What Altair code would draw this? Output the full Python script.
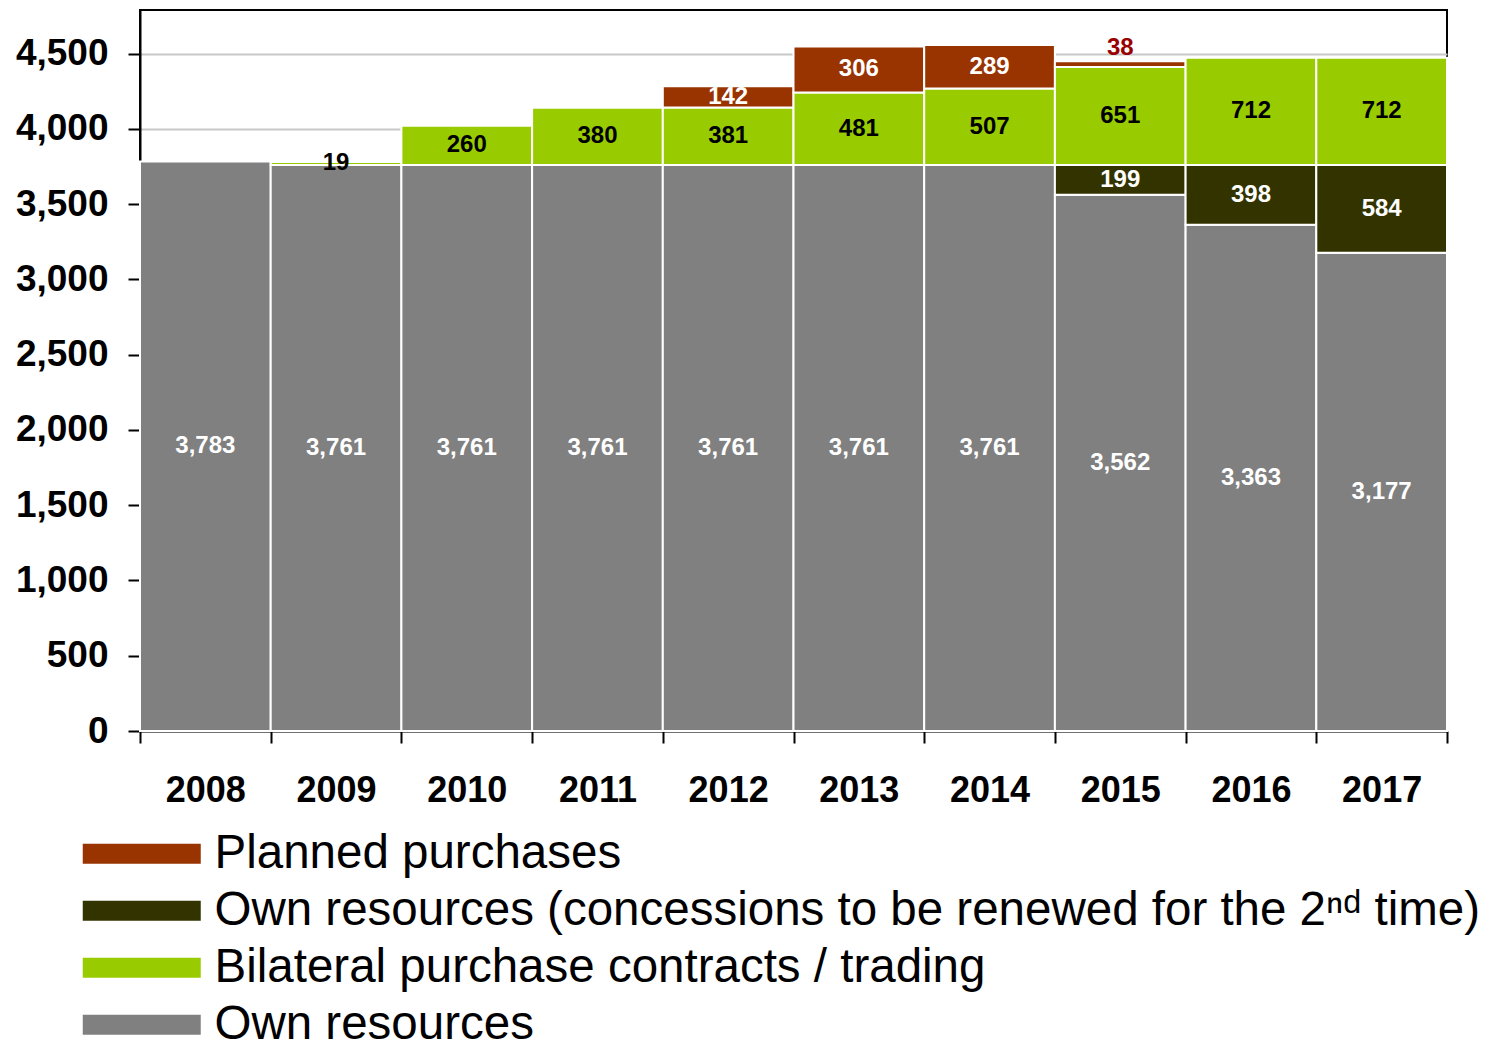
import altair as alt
import pandas as pd

years = ["2008", "2009", "2010", "2011", "2012", "2013", "2014", "2015", "2016", "2017"]
own = [3783, 3761, 3761, 3761, 3761, 3761, 3761, 3562, 3363, 3177]
own_conc = [0, 0, 0, 0, 0, 0, 0, 199, 398, 584]
bilateral = [0, 19, 260, 380, 381, 481, 507, 651, 712, 712]
planned = [0, 0, 0, 0, 142, 306, 289, 38, 0, 0]

# stack order bottom -> top
series_names = [
    "Own resources",
    "Own resources (concessions to be renewed for the 2\u207f\u1d48 time)",
    "Bilateral purchase contracts / trading",
    "Planned purchases",
]
series_vals = [own, own_conc, bilateral, planned]
series_colors = ["#808080", "#333300", "#99CC00", "#993300"]
text_colors = ["white", "white", "black", "white"]

rows = []
for i, y in enumerate(years):
    base = 0
    for s, name in enumerate(series_names):
        v = series_vals[s][i]
        if v > 0:
            small_top = (s == 3 and v < 100)
            rows.append({
                "year": y, "series": name, "value": v,
                "y0": base, "y1": base + v, "mid": base + v / 2,
                "tcolor": text_colors[s], "order": s,
                "above": small_top,
            })
        base += v
df = pd.DataFrame(rows)

# legend order as in the reference: planned, concessions, bilateral, own
legend_idx = [3, 1, 2, 0]
legend_order = [series_names[k] for k in legend_idx]
legend_colors = [series_colors[k] for k in legend_idx]

FONT = "Liberation Sans"

x_enc = alt.X(
    "year:N",
    sort=years,
    scale=alt.Scale(paddingInner=0, paddingOuter=0),
    axis=alt.Axis(
        title=None, labelAngle=0, tickBand="extent", labelFont=FONT,
        labelFontSize=36, labelFontWeight="bold", labelColor="black",
        labelPadding=30, tickSize=12, tickColor="black", tickWidth=2,
        domainColor="black", domainWidth=2, grid=False,
    ),
)

base = alt.Chart(df)

bars = base.mark_bar(stroke="white", strokeWidth=2, opacity=1).encode(
    x=x_enc,
    y=alt.Y(
        "y0:Q",
        scale=alt.Scale(domain=[0, 4790], nice=False, zero=True),
        axis=alt.Axis(
            title=None, values=list(range(0, 4501, 500)), format=",.0f",
            labelFont=FONT, labelFontSize=37, labelFontWeight="bold",
            labelColor="black", labelPadding=20, tickSize=12,
            tickColor="black", tickWidth=2, domainColor="black",
            domainWidth=2, gridColor="#C8C8C8", gridWidth=2,
        ),
    ),
    y2="y1:Q",
    color=alt.Color(
        "series:N",
        sort=legend_order,
        scale=alt.Scale(domain=legend_order, range=legend_colors),
        legend=alt.Legend(
            title=None, orient="none", legendX=-61, legendY=820,
            direction="vertical", columns=1, values=legend_order,
            symbolType="M-1,-0.5H4.9V0.5H-1Z",
            symbolSize=1600, symbolStrokeWidth=0, symbolOpacity=1,
            labelFont=FONT, labelFontSize=47.5, labelColor="black",
            labelOffset=88, rowPadding=8, labelLimit=2000, padding=0,
        ),
    ),
)

labels_mid = base.transform_filter("!datum.above").mark_text(
    font=FONT, fontSize=24, fontWeight="bold", baseline="middle", align="center"
).encode(
    x=alt.X("year:N", sort=years),
    y=alt.Y("mid:Q"),
    text=alt.Text("value:Q", format=",.0f"),
    color=alt.Color("tcolor:N", scale=None),
)

labels_top = base.transform_filter("datum.above").mark_text(
    font=FONT, fontSize=24, fontWeight="bold", baseline="alphabetic",
    align="center", dy=-6, color="#990000",
).encode(
    x=alt.X("year:N", sort=years),
    y=alt.Y("y1:Q"),
    text=alt.Text("value:Q", format=",.0f"),
)

chart = alt.layer(bars, labels_mid, labels_top).properties(
    width=1307, height=721,
    padding={"left": 132, "top": 2, "right": 38, "bottom": 315},
    autosize=alt.AutoSizeParams(type="none"),
).configure_view(
    stroke="black", strokeWidth=2, strokeOpacity=1
).configure(
    background="white", style={"cell": {"stroke": "black", "strokeWidth": 2}}
)

chart.save("out.html", embed_options={"renderer": "svg", "actions": False})
